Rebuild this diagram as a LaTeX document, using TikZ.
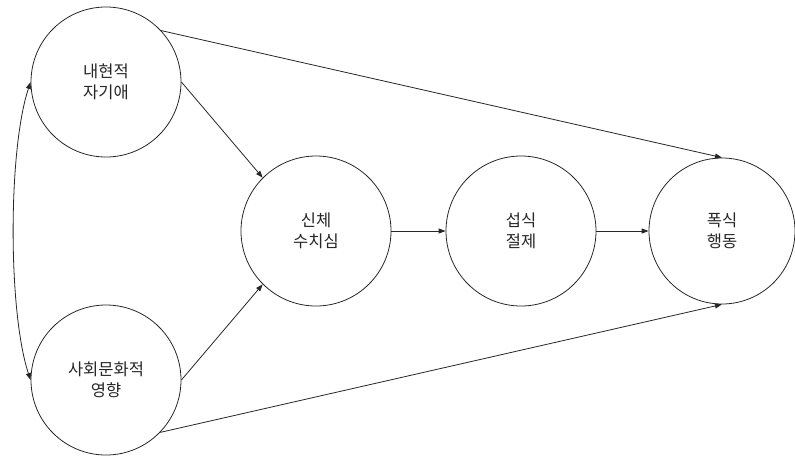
\documentclass[tikz,border=0pt]{standalone}
\usepackage{fontspec}
\newfontfamily\kr{Noto Sans CJK KR}
\usetikzlibrary{arrows.meta}
\begin{document}
\begin{tikzpicture}[x=1pt,y=-1pt,
  circ/.style={circle,draw=black!85,line width=0.8pt,minimum size=150pt,inner sep=0pt,align=center,text=black!85,font=\kr\fontsize{16.5}{20.5}\selectfont},
  conn/.style={draw=black!85,line width=0.8pt,-{Triangle[length=7pt,width=5pt]}}]
\useasboundingbox (0,0) rectangle (795,456);
\node[circ] (A) at (106,82) {내현적\\자기애};
\node[circ] (B) at (106,380) {사회문화적\\영향};
\node[circ] (C) at (316,231) {신체\\수치심};
\node[circ] (D) at (521,231) {섭식\\절제};
\node[circ,minimum size=146pt] (E) at (722,231) {폭식\\행동};
\draw[conn] (A.43) -- (E.90);
\draw[conn] (B.-44) -- (E.270);
\draw[conn] (A.0) -- (C.135);
\draw[conn] (B.0) -- (C.225);
\draw[conn] (C.east) -- (D.west);
\draw[conn] (D.east) -- (E.west);
\draw[draw=black!85,line width=0.8pt,{Triangle[length=7pt,width=5pt]}-{Triangle[length=7pt,width=5pt]}] (A.180) .. controls (8,150) and (8,312) .. (B.180);
\end{tikzpicture}
\end{document}
